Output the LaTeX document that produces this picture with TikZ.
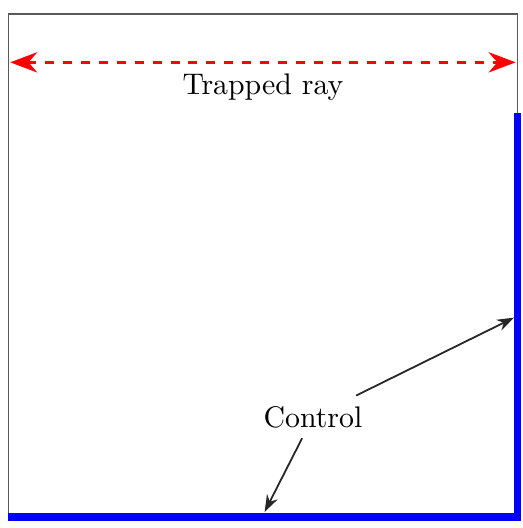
\documentclass[tikz,border=0pt]{standalone}
\usepackage{tikz}
\usetikzlibrary{arrows.meta}
\tikzset{
  frame_box/.style={draw=black!65,line width=0.6pt},
  wall_ctl/.style={draw=blue,line width=2.4pt},
  ray_arr/.style={{Stealth[length=3.2mm,width=2.4mm]}-{Stealth[length=3.2mm,width=2.4mm]},
    draw=red,dashed,thick},
  ptr_arr/.style={-{Stealth[length=2mm,width=1.4mm]},draw=black!85,semithick},
}

\begin{document}
\begin{tikzpicture}
  \useasboundingbox (-0.1,-0.13) rectangle (6.065,6.095);

  % --- Domain corners ---
  \coordinate (sw) at (0,0);
  \coordinate (se) at (6,0);
  \coordinate (ne) at (6,5.93);
  \coordinate (nw) at (0,5.93);
  \coordinate (ctlTop) at (6,4.76);

  % --- Outer box ---
  \draw[frame_box] (sw) rectangle (ne);

  % --- Controlled boundary (bottom and part of right side) ---
  \draw[wall_ctl] (0,0) -- (se) -- (ctlTop);

  % --- Trapped ray ---
  \coordinate (rayL) at (0.02,5.36);
  \coordinate (rayR) at (5.98,5.36);
  \draw[ray_arr] (rayL) -- (rayR);
  \node (trap) at (3,5.07) {Trapped ray};

  % --- Control label and pointers ---
  \node (ctrl) at (3.59,1.18) {Control};
  \coordinate (ctlB) at (3.02,0.06);
  \coordinate (ctlR) at (5.96,2.35);
  \draw[ptr_arr] (ctrl) -- (ctlB);
  \draw[ptr_arr] (ctrl) -- (ctlR);
\end{tikzpicture}
\end{document}
